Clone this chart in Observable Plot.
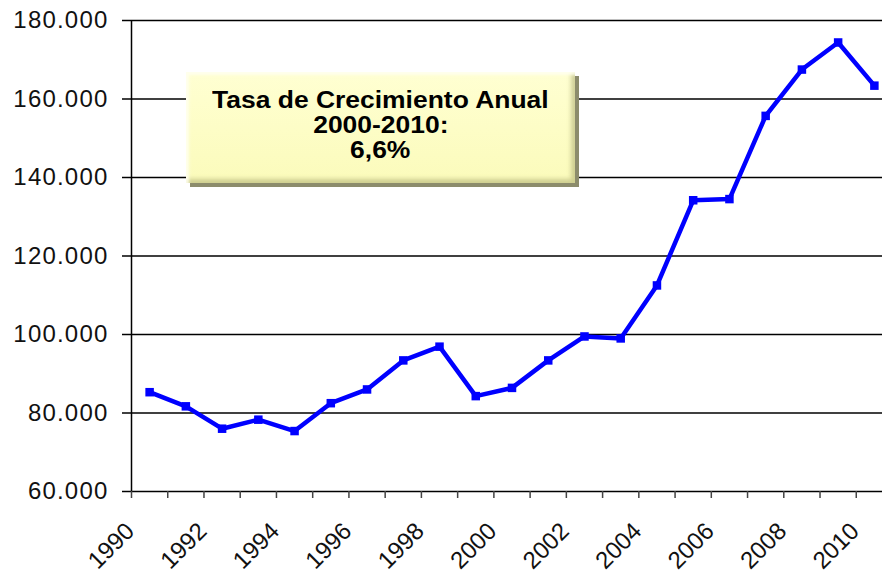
<!DOCTYPE html>
<html>
<head>
<meta charset="utf-8">
<script src="https://cdn.jsdelivr.net/npm/d3@7"></script>
<script src="https://cdn.jsdelivr.net/npm/@observablehq/plot@0.6"></script>
<style>
  html, body { margin: 0; padding: 0; background: #fff; }
  #wrap { position: relative; width: 882px; height: 581px; overflow: hidden; font-family: "Liberation Sans", Arial, sans-serif; }
  #box {
    position: absolute; left: 186px; top: 72px; width: 389px; height: 111px; box-sizing: border-box; padding-bottom: 4px;
    background: linear-gradient(180deg, #ffffd2 0%, #fbfbbb 100%);
    box-shadow: inset 3px 3px 3px rgba(255,255,240,0.9), inset -4px -4px 4px rgba(170,170,110,0.55), 4px 4px 0 #8c8c6c;
    display: flex; flex-direction: column; align-items: center; justify-content: center;
    font-weight: bold; font-size: 23px; line-height: 25px; color: #000;
  }
  #box span { display: inline-block; transform: scaleX(1.15); white-space: nowrap; }
  .c g[aria-label="y-axis tick label"] { font-size: 24px; letter-spacing: 1.2px; }
  .c g[aria-label="year labels"] text { font-size: 24px !important; }
</style>
</head>
<body>
<div id="wrap">
  <div id="chart"></div>
  <div id="box"><span>Tasa de Crecimiento Anual</span><span>2000-2010:</span><span>6,6%</span></div>
</div>
<script>
const years = [1990,1991,1992,1993,1994,1995,1996,1997,1998,1999,2000,2001,2002,2003,2004,2005,2006,2007,2008,2009,2010];
const values = [85300,81700,76000,78300,75400,82500,86000,93400,96900,84300,86400,93400,99500,99000,112500,134200,134500,155700,167500,174400,163400];
const yTicks = [60000,80000,100000,120000,140000,160000,180000];
const xLabels = [1990,1992,1994,1996,1998,2000,2002,2004,2006,2008,2010];

const data = years.map((year, i) => ({year, value: values[i]}));
const boundaries = years.map(y => y - 0.5);
const fmt = d => d3.format(",")(d).replace(/,/g, ".");

const chart = Plot.plot({
  className: "c",
  width: 882,
  height: 581,
  marginLeft: 131,
  marginRight: 0,
  marginTop: 20,
  marginBottom: 90,
  style: {fontFamily: "Liberation Sans, Arial, sans-serif", color: "#000", background: "#fff", overflow: "hidden"},
  x: {type: "linear", domain: [1989.5, 2010.5], range: [131, 892], axis: null},
  y: {domain: [60000, 180000], axis: null},
  marks: [
    Plot.ruleY(yTicks, {y: d => d, stroke: "#000", strokeWidth: 1.5}),
    Plot.ruleX([1989.5], {x: d => d, stroke: "#000", strokeWidth: 1.5}),
    Plot.axisY({ticks: yTicks, tickSize: 9, tickPadding: 14, tickFormat: fmt, stroke: "#000", strokeWidth: 1.5, fill: "#111", label: null}),
    Plot.axisX({ticks: boundaries, tickSize: 7, tickFormat: null, text: null, stroke: "#444", strokeWidth: 1.5, label: null}),
    Plot.text(xLabels, {x: d => d, text: d => String(d), frameAnchor: "bottom", dx: -14, dy: 41, rotate: -45, textAnchor: "end", lineAnchor: "bottom", fontSize: 24, fill: "#111", ariaLabel: "year labels"}),
    Plot.line(data, {x: "year", y: "value", stroke: "#0000ff", strokeWidth: 4.5, strokeLinejoin: "round"}),
    Plot.dot(data, {x: "year", y: "value", symbol: "square", r: 4.8, fill: "#0000ff", stroke: "none"})
  ]
});
document.getElementById("chart").appendChild(chart);
</script>
</body>
</html>
